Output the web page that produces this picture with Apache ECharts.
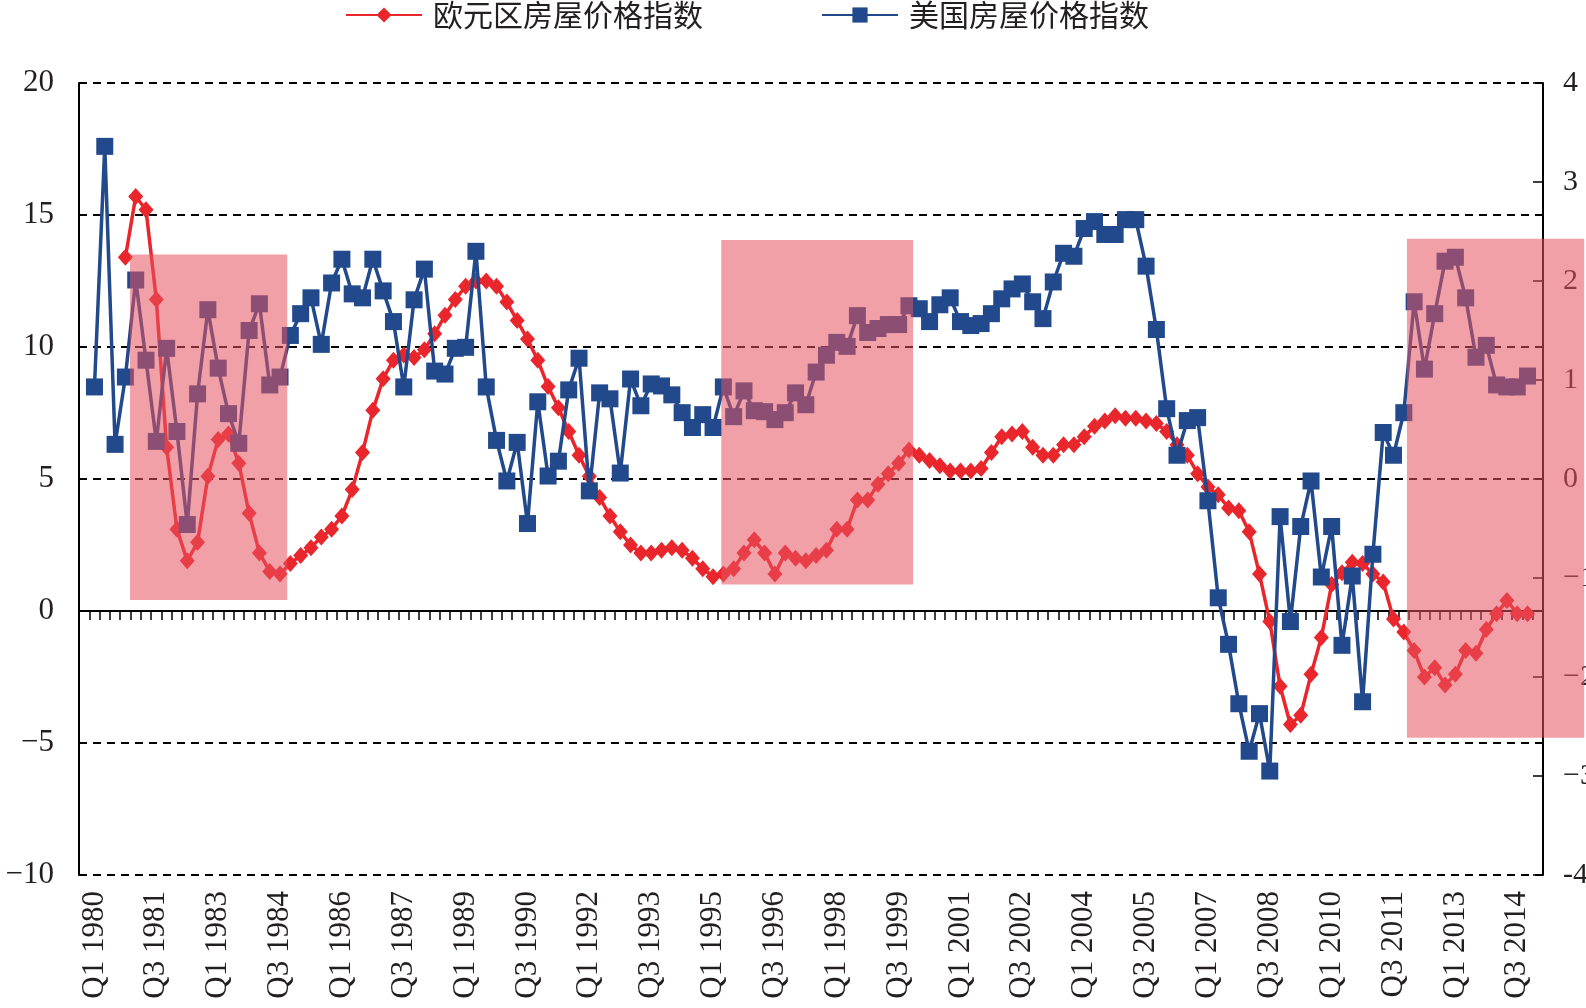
<!DOCTYPE html>
<html>
<head>
<meta charset="utf-8">
<script src="https://cdn.jsdelivr.net/npm/echarts@6/dist/echarts.min.js"></script>
<style>
  html, body { margin: 0; padding: 0; background: #fff; }
  #chart { width: 1586px; height: 1008px; }
</style>
</head>
<body>
<div id="chart"></div>
<script>
// quarters: Q4 1979 .. Q1 2015 (first and last slot carry no data)
const quarters = ['Q4 1979'];
for (let y = 1980; y <= 2014; y++) {
  for (let q = 1; q <= 4; q++) quarters.push('Q' + q + ' ' + y);
}
quarters.push('Q1 2015');

// euro area house price index, % (left axis)
const euroHpi = [
  null, null, null, null, 13.4, 15.7, 15.2, 11.8, 6.2, 3.1,
  1.9, 2.6, 5.1, 6.5, 6.7, 5.6, 3.7, 2.2, 1.5, 1.4,
  1.8, 2.1, 2.4, 2.8, 3.1, 3.6, 4.6, 6.0, 7.6, 8.8,
  9.5, 9.7, 9.6, 9.9, 10.5, 11.2, 11.8, 12.3, 12.5, 12.5,
  12.3, 11.7, 11.0, 10.3, 9.5, 8.5, 7.7, 6.8, 5.9, 5.1,
  4.3, 3.6, 3.0, 2.5, 2.2, 2.2, 2.3, 2.4, 2.3, 2.0,
  1.6, 1.3, 1.4, 1.6, 2.2, 2.7, 2.2, 1.4, 2.2, 2.0,
  1.9, 2.1, 2.3, 3.1, 3.1, 4.2, 4.2, 4.8, 5.2, 5.6,
  6.1, 5.9, 5.7, 5.5, 5.3, 5.3, 5.3, 5.4, 6.0, 6.6,
  6.7, 6.8, 6.2, 5.9, 5.9, 6.3, 6.3, 6.6, 7.0, 7.2,
  7.4, 7.3, 7.3, 7.2, 7.1, 6.8, 6.3, 5.9, 5.2, 4.7,
  4.4, 3.9, 3.8, 3.0, 1.4, -0.4, -2.85, -4.3, -3.95, -2.4,
  -1.0, 1.0, 1.45, 1.85, 1.8, 1.4, 1.1, -0.3, -0.8, -1.5,
  -2.5, -2.15, -2.8, -2.4, -1.5, -1.6, -0.7, -0.1, 0.4, -0.1,
  -0.1, null
];

// US house price index, % (right axis)
const usHpi = [
  null, 0.93, 3.36, 0.35, 1.03, 2.01, 1.2, 0.38, 1.32, 0.48,
  -0.46, 0.86, 1.71, 1.12, 0.66, 0.36, 1.5, 1.77, 0.95, 1.03,
  1.45, 1.67, 1.83, 1.36, 1.98, 2.22, 1.87, 1.83, 2.22, 1.9,
  1.59, 0.93, 1.81, 2.12, 1.09, 1.06, 1.32, 1.33, 2.3, 0.93,
  0.39, -0.02, 0.37, -0.45, 0.78, 0.03, 0.18, 0.9, 1.22, -0.12,
  0.87, 0.81, 0.06, 1.01, 0.74, 0.96, 0.94, 0.85, 0.67, 0.52,
  0.65, 0.52, 0.93, 0.63, 0.89, 0.69, 0.68, 0.6, 0.67, 0.87,
  0.75, 1.08, 1.25, 1.38, 1.34, 1.65, 1.48, 1.52, 1.56, 1.56,
  1.75, 1.72, 1.59, 1.76, 1.83, 1.59, 1.55, 1.57, 1.67, 1.82,
  1.92, 1.97, 1.79, 1.62, 1.99, 2.28, 2.25, 2.53, 2.6, 2.47,
  2.47, 2.62, 2.62, 2.15, 1.51, 0.71, 0.24, 0.59, 0.62, -0.22,
  -1.2, -1.67, -2.27, -2.75, -2.37, -2.95, -0.38, -1.44, -0.48, -0.02,
  -0.99, -0.48, -1.68, -0.98, -2.25, -0.76, 0.47, 0.24, 0.67, 1.79,
  1.11, 1.67, 2.2, 2.24, 1.83, 1.23, 1.35, 0.95, 0.93, 0.93,
  1.04, null
];

// shaded periods: [start slot, end slot, top, bottom] in left-axis units
const shadedPeriods = [
  [4.95, 20.2, 13.5, 0.42],
  [62.3, 80.9, 14.05, 1.0],
  [128.8, 146, 14.1, -4.8]
];

const seriesNames = ['欧元区房屋价格指数', '美国房屋价格指数'];

const chart = echarts.init(document.getElementById('chart'));

const serif = 'Liberation Serif';
const textColor = '#231f20';
const shadeColor = 'rgba(232, 82, 96, 0.55)';

function minusSign(v) {
  return v < 0 ? '\u2212' + Math.abs(v) : String(v);
}

chart.setOption({
  animation: false,
  backgroundColor: '#fff',
  legend: {
    data: seriesNames,
    top: 0,
    left: 345,
    padding: 0,
    itemWidth: 76,
    itemHeight: 19,
    itemGap: 118,
    textStyle: {
      fontFamily: 'Noto Sans CJK SC',
      fontSize: 30,
      color: textColor,
      padding: [0, 0, 0, 6]
    }
  },
  grid: {
    left: 79,
    right: 43,
    top: 83,
    bottom: 133,
    outerBoundsMode: 'none'
  },
  xAxis: [
    {
      type: 'category',
      data: quarters,
      boundaryGap: true,
      axisLine: { show: false, onZero: false },
      axisTick: { show: false },
      splitLine: { show: false },
      axisLabel: {
        interval: (idx) => idx % 6 === 1,
        rotate: 90,
        margin: 16,
        fontFamily: serif,
        fontSize: 31,
        color: textColor
      }
    },
    {
      type: 'category',
      data: quarters,
      boundaryGap: true,
      axisLine: {
        onZero: true,
        onZeroAxisIndex: 0,
        lineStyle: { color: '#000', width: 2 }
      },
      axisTick: {
        show: true,
        inside: true,
        interval: 0,
        length: 9,
        lineStyle: { color: '#000', width: 1.5 }
      },
      axisLabel: { show: false },
      splitLine: { show: false }
    },
    {
      // plain slot scale used to place the shaded periods
      type: 'value',
      min: 0,
      max: quarters.length,
      show: false
    }
  ],
  yAxis: [
    {
      type: 'value',
      position: 'left',
      min: -10,
      max: 20,
      interval: 5,
      axisLine: { show: true, lineStyle: { color: '#000', width: 2 } },
      axisTick: { show: false },
      axisLabel: {
        margin: 25,
        fontFamily: serif,
        fontSize: 31,
        color: textColor,
        formatter: minusSign
      },
      splitLine: {
        show: true,
        lineStyle: { color: '#000', width: 2, type: [8, 6] }
      }
    },
    {
      type: 'value',
      position: 'right',
      min: -4,
      max: 4,
      interval: 1,
      axisLine: { show: true, lineStyle: { color: '#000', width: 2 } },
      axisTick: {
        show: true,
        inside: true,
        length: 10,
        lineStyle: { color: '#000', width: 1.5 }
      },
      axisLabel: {
        margin: 20,
        fontFamily: serif,
        fontSize: 30,
        color: textColor,
        formatter: v => (v === -4 ? '-4' : minusSign(v))
      },
      splitLine: { show: false }
    }
  ],
  series: [
    {
      name: seriesNames[0],
      type: 'line',
      xAxisIndex: 0,
      yAxisIndex: 0,
      data: euroHpi,
      symbol: 'diamond',
      symbolSize: [15, 17],
      showAllSymbol: true,
      lineStyle: { color: '#e8262c', width: 3.5 },
      itemStyle: { color: '#e8262c' },
      z: 2
    },
    {
      name: seriesNames[1],
      type: 'line',
      xAxisIndex: 0,
      yAxisIndex: 1,
      data: usHpi,
      symbol: 'rect',
      symbolSize: 17,
      showAllSymbol: true,
      lineStyle: { color: '#21498b', width: 3.5 },
      itemStyle: { color: '#21498b' },
      z: 3
    }
  ]
});

// translucent boxes laid over the lines; the last one runs past the right axis
function shadeRects() {
  return shadedPeriods.map(p => {
    const x0 = chart.convertToPixel({ xAxisIndex: 2 }, p[0]);
    const x1 = chart.convertToPixel({ xAxisIndex: 2 }, p[1]);
    const y0 = chart.convertToPixel({ yAxisIndex: 0 }, p[2]);
    const y1 = chart.convertToPixel({ yAxisIndex: 0 }, p[3]);
    return {
      type: 'rect',
      silent: true,
      z: 100,
      shape: { x: x0, y: y0, width: x1 - x0, height: y1 - y0 },
      style: { fill: shadeColor }
    };
  });
}

chart.setOption({ graphic: shadeRects() });

window.addEventListener('resize', () => {
  chart.resize();
  chart.setOption({ graphic: shadeRects() });
});
</script>
</body>
</html>
